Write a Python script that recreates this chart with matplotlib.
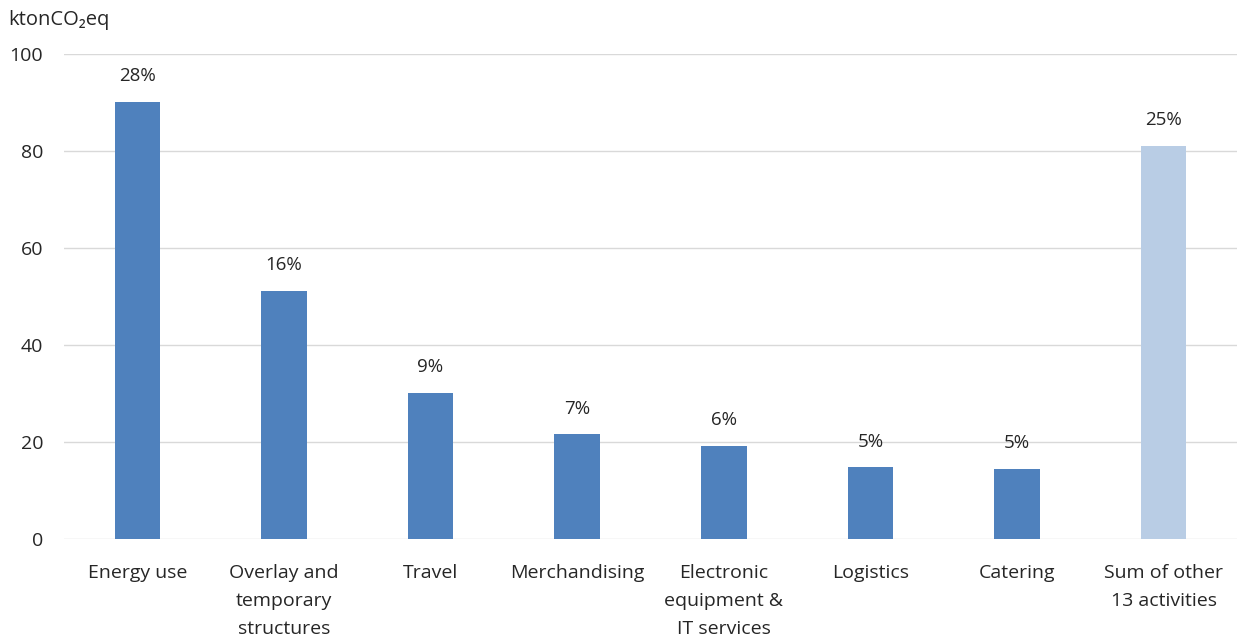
import matplotlib
matplotlib.use("Agg")
import matplotlib.pyplot as plt

categories = ["Energy use", "Overlay and\ntemporary\nstructures", "Travel", "Merchandising",
              "Electronic\nequipment &\nIT services", "Logistics", "Catering", "Sum of other\n13 activities"]
values = [90.1, 51.1, 30.1, 21.6, 19.2, 14.8, 14.4, 81.0]
shares = ["28%", "16%", "9%", "7%", "6%", "5%", "5%", "25%"]
yticks = [0, 20, 40, 60, 80, 100]

plt.rcParams['font.family'] = ['Open Sans', 'DejaVu Sans']
text_color = "#262626"

fig = plt.figure(figsize=(12.37, 6.39), dpi=100)
ax = fig.add_axes([64/1237, 1 - 539/639, 1 - 64/1237, (539 - 54)/639])

colors = ["#4F81BD"] * (len(values) - 1) + ["#B9CDE5"]
x = list(range(len(values)))
bars = ax.bar(x, values, width=0.31, color=colors, zorder=3)

for xi, v, s in zip(x, values, shares):
    ax.annotate(s, (xi, v), xytext=(0, 12), textcoords="offset points",
                ha="center", va="bottom", fontsize=13.5, color=text_color)

ax.set_xlim(-0.5, 7.5)
ax.set_ylim(0, 100)
ax.set_yticks(yticks)
ax.set_yticklabels([str(t) for t in yticks])
ax.set_xticks(x)
ax.set_xticklabels(categories, linespacing=1.7)
ax.tick_params(axis="y", length=0, pad=15, labelsize=14, labelcolor=text_color)
ax.tick_params(axis="x", length=0, pad=18, labelsize=14, labelcolor=text_color)
ax.grid(axis="y", color="#D9D9D9", linewidth=1, zorder=0)
for sp in ax.spines.values():
    sp.set_visible(False)

fig.text(8/1237, 1 - 20/639, "ktonCO₂eq", fontsize=14.5, color=text_color, ha="left", va="center")

fig.savefig("out.png", dpi=100, facecolor="white")
